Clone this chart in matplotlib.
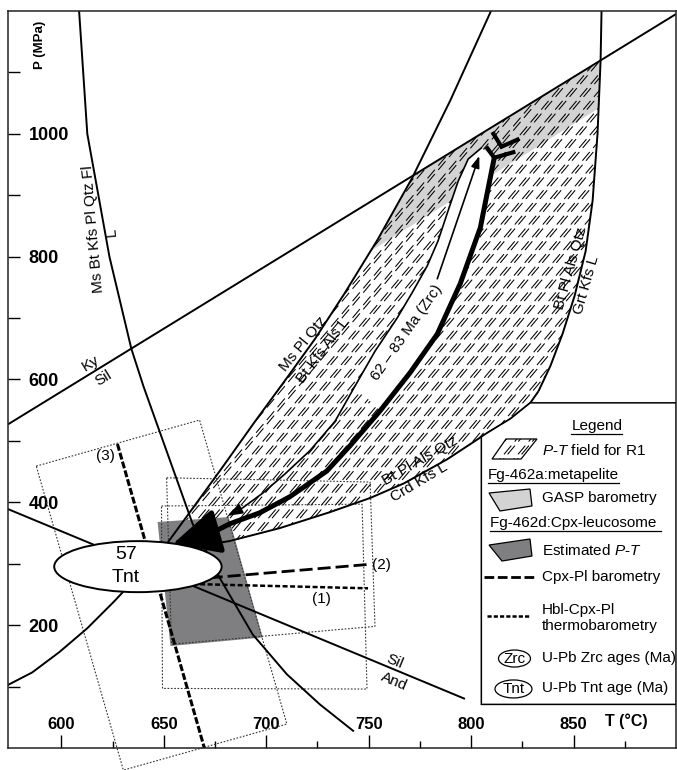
import numpy as np
import matplotlib
matplotlib.use("Agg")
import matplotlib.pyplot as plt
from matplotlib.patches import Polygon, Ellipse, FancyArrowPatch
from matplotlib.path import Path
from matplotlib.collections import LineCollection

plt.rcParams['font.family'] = ['Liberation Sans', 'DejaVu Sans']
plt.rcParams['mathtext.fontset'] = 'custom'
plt.rcParams['mathtext.rm'] = 'Liberation Sans'
plt.rcParams['mathtext.it'] = 'Liberation Sans:italic'
plt.rcParams['lines.scale_dashes'] = False

# ---------------- data (T in °C, P in MPa) ----------------
t_ticks = [600, 650, 700, 750, 800, 850]
t_minor = [625, 675, 725, 775, 825, 875]
p_ticks = [200, 400, 600, 800, 1000]
p_minor = [100, 300, 500, 700, 900, 1100]

ky_sil_T = [574, 900]
ky_sil_P = [527, 1195]

sil_and_T = [574, 797]
sil_and_P = [389, 80]

# Ms Bt Kfs Pl Qtz Fl = L
solidus_T = [608.6, 612.7, 623.5, 634.2, 640.1, 664.1, 677.3, 693.4, 710.1, 726.2, 742.8]
solidus_P = [1205, 1000, 800, 650, 589, 365, 277, 185, 120, 71, 27]

# Ms Pl Qtz = Bt Kfs Als L
ms_melt_T = [810.8, 789.8, 771.2, 754.6, 738.4, 723.8, 709.1, 694.4, 679.7,
             665.6, 651.4, 638.2, 625.9, 612.7, 599.0, 585.8, 573.6]
ms_melt_P = [1208, 1054, 928, 829, 741, 666, 598, 531, 462,
             397, 332, 283, 239, 195, 156, 123, 102]
ms_melt_apex = 10

# Bt Pl Als Qtz = Grt Kfs L
grt_T = [863.7, 863.2, 861.7, 859.3, 855.9, 850.5, 844.6, 838.7, 832.9]
grt_P = [1208, 1119, 1000, 891, 809, 736, 674, 622, 581]

# Bt Pl Als Qtz = Crd Kfs L
crd_T = [653.8, 667.5, 682.2, 706.6, 731.1, 750.7, 767.3, 788.3, 807.9, 819.2, 828.9, 832.9]
crd_P = [322, 329, 337, 358, 384, 407, 431, 470, 513, 536, 562, 581]

# GASP barometry, lower limit (upper limit is the Ky/Sil line)
gasp_T = [751, 862]
gasp_P = [809, 1041]

# Fg-462d estimated P-T
est_T = [647.0, 681.7, 698.3, 653.3]
est_P = [368, 376, 180, 166]

# barometry lines (1)-(3)
cpx_pl_T = [672.4, 750.2]
cpx_pl_P = [277, 299]
hbl_T = [664.1, 749.7]
hbl_P = [267, 260]
line3_T = [627.4, 670.0]
line3_P = [495, -2]

# uncertainty envelopes
env2_T = [651.4, 750.7, 753.1, 653.8]
env2_P = [440, 433, 198, 169]
env1_T = [648.9, 746.8, 749.2, 649.4]
env1_P = [394, 397, 96, 97]
env3_T = [587.8, 667.5, 710.1, 630.3]
env3_P = [459, 534, 39, -36]

# P-T path (retrograde, thick) and zircon-age path (thin)
path_T = [811.3, 804.5, 794.7, 783.5, 770.2, 755.6, 740.9, 729.6, 711.5, 696.9, 682.2, 673.4, 654.3]
path_P = [961, 847, 756, 674, 611, 549, 492, 451, 409, 383, 365, 350, 332]
zrc_T = [805.0, 798.6, 793.7, 788.8, 783.9, 778.6, 771.7, 763.9, 753.1, 743.3,
         733.6, 721.3, 709.1, 698.3, 688.5, 681.2]
zrc_P = [977, 959, 923, 875, 826, 785, 744, 700, 646, 589,
         532, 484, 446, 415, 391, 378]
zrc_up_T = [783.5, 804.0]
zrc_up_P = [764, 964]
peak_a_T = [810.4, 814.8, 823.6]
peak_a_P = [1003, 979, 992]
peak_b_T = [807.4, 811.3, 821.6]
peak_b_P = [979, 961, 971]

tnt_T, tnt_P = 637.4, 295.3
tnt_age = "57"

# ---------------- figure ----------------
fig = plt.figure(figsize=(6.77, 7.70), dpi=100)
ax = fig.add_axes([8 / 677, 22 / 770, 668 / 677, 737 / 770])
ax.set_xlim(574, 900)
ax.set_ylim(0, 1200)

for s in ax.spines.values():
    s.set_linewidth(1.1)
    s.set_color('#222222')

ax.set_xticks(t_ticks, labels=[str(v) for v in t_ticks], fontweight='bold', fontsize=12)
ax.set_xticks(t_minor, minor=True)
ax.set_yticks(p_ticks, labels=[str(v) for v in p_ticks], fontweight='bold', fontsize=13,
              ha='left')
ax.set_yticks(p_minor, minor=True)
ax.tick_params(axis='x', which='major', direction='in', length=9.4, width=1.0, pad=-22)
ax.tick_params(axis='x', which='minor', direction='in', length=5, width=1.0)
ax.tick_params(axis='y', which='both', direction='in', length=8.6, width=1.0, pad=-15)

ax.text(0.048, 0.954, "P (MPa)", transform=ax.transAxes, rotation=90, fontsize=9.5,
        fontweight='bold', ha='center', va='center')
ax.text(0.925, 0.037, "T (°C)", transform=ax.transAxes, fontsize=11.5,
        fontweight='bold', ha='center', va='center')


def line_at(T, lT, lP):
    m = (lP[1] - lP[0]) / (lT[1] - lT[0])
    return lP[0] + m * (np.asarray(T, float) - lT[0])


def cross_line(T, P, lT, lP):
    T = np.asarray(T, float)
    P = np.asarray(P, float)
    s = P - line_at(T, lT, lP)
    for i in range(len(T) - 1):
        if s[i] * s[i + 1] <= 0 and s[i] != s[i + 1]:
            f = s[i] / (s[i] - s[i + 1])
            return i, (T[i] + f * (T[i + 1] - T[i]), P[i] + f * (P[i + 1] - P[i]))
    return None


def dash_hatch(clip, zorder, spacing=14.0, angle=50.0, pair=3.6, lw=0.75):
    """Double dashed diagonal hatching, built in pixel space and clipped to a patch."""
    bb = ax.bbox
    x0, y0, x1, y1 = bb.x0, bb.y0, bb.x1, bb.y1
    run = (y1 - y0) / np.tan(np.radians(angle))
    starts = np.arange(x0 - run - spacing, x1 + spacing, spacing)
    inv = ax.transData.inverted()
    segs = []
    for dx in (0.0, pair):
        for xs in starts:
            segs.append(inv.transform([[xs + dx, y0], [xs + dx + run, y1]]))
    lc = LineCollection(segs, colors='k', linewidths=lw,
                        linestyles=[(0, (8.2, 3.8))], zorder=zorder)
    ax.add_collection(lc)
    lc.set_clip_path(clip)
    return lc


# ---- P-T field for R1 ----
iD, xD = cross_line(ms_melt_T, ms_melt_P, ky_sil_T, ky_sil_P)
iG, xG = cross_line(grt_T, grt_P, ky_sil_T, ky_sil_P)
field = [xD]
field += list(zip(ms_melt_T[iD + 1:ms_melt_apex + 1], ms_melt_P[iD + 1:ms_melt_apex + 1]))
field += list(zip(crd_T, crd_P))
field += list(zip(grt_T[iG + 1:], grt_P[iG + 1:]))[::-1]
field += [xG]
field_patch = Polygon(field, closed=True, fc='white', ec='none', zorder=1)
ax.add_patch(field_patch)

# GASP band, clipped to the field
band_T = np.array([700, 900])
band_top = line_at(band_T, ky_sil_T, ky_sil_P) + 60
band_bot = line_at(band_T, gasp_T, gasp_P)
gasp = Polygon([(band_T[0], band_top[0]), (band_T[1], band_top[1]),
                (band_T[1], band_bot[1]), (band_T[0], band_bot[0])],
               closed=True, fc='#d3d3d3', ec='none', zorder=1.1)
ax.add_patch(gasp)
gasp.set_clip_path(field_patch)

dash_hatch(field_patch, 1.2)

# white tongue of the zircon-age path
tongue = list(zip(zrc_T[:10], zrc_P[:10])) + list(zip(path_T[:6], path_P[:6]))[::-1]
ax.add_patch(Polygon(tongue, closed=True, fc='white', ec='none', zorder=1.3))

# estimated P-T for Fg-462d
ax.add_patch(Polygon(list(zip(est_T, est_P)), closed=True, fc='#7f7f81', ec='none',
                     zorder=1.5))

# envelopes
for eT, eP, clip in ((env1_T, env1_P, True), (env2_T, env2_P, True), (env3_T, env3_P, False)):
    ax.add_patch(Polygon(list(zip(eT, eP)), closed=True, fill=False, ec='#333333',
                         lw=0.8, ls=(0, (1.2, 1.2)), zorder=1.6, clip_on=clip))

# reaction curves
curve_kw = dict(color='k', lw=1.4, zorder=2, solid_capstyle='butt')
ax.plot(ky_sil_T, ky_sil_P, **curve_kw)
ax.plot(sil_and_T, sil_and_P, **curve_kw)
ax.plot(solidus_T, solidus_P, **curve_kw)
ax.plot(ms_melt_T, ms_melt_P, **curve_kw)
ax.plot(grt_T, grt_P, **curve_kw)
ax.plot(crd_T, crd_P, **curve_kw)

# barometry lines
ax.plot(cpx_pl_T, cpx_pl_P, color='k', lw=2.0, ls=(0, (9.4, 3.6)), zorder=2.2)
ax.plot(hbl_T, hbl_P, color='k', lw=1.8, ls=(0, (3.6, 1.8)), zorder=2.2)
ax.plot(line3_T, line3_P, color='k', lw=2.2, ls=(0, (5.0, 1.6)), zorder=2.2)

# P-T path arrows
ax.add_patch(FancyArrowPatch(path=Path(np.column_stack([path_T, path_P])),
                             arrowstyle='-|>,head_length=29,head_width=14',
                             mutation_scale=1, lw=3.6, color='k', zorder=2.6,
                             joinstyle='round'))
ax.add_patch(FancyArrowPatch(path=Path(np.column_stack([zrc_T, zrc_P])),
                             arrowstyle='-|>,head_length=9,head_width=3.2',
                             mutation_scale=1, lw=1.2, color='k', zorder=2.5))
ax.add_patch(FancyArrowPatch(path=Path(np.column_stack([zrc_up_T, zrc_up_P])),
                             arrowstyle='-|>,head_length=7,head_width=2.5',
                             mutation_scale=1, lw=1.2, color='k', zorder=2.5))
for cT, cP in ((peak_a_T, peak_a_P), (peak_b_T, peak_b_P)):
    ax.plot(cT, cP, color='k', lw=3.0, zorder=2.6, solid_joinstyle='miter',
            solid_capstyle='butt')

# titanite age
ax.add_patch(Ellipse((tnt_T, tnt_P), 81.7, 83.1, fc='white', ec='k', lw=1.4, zorder=3))
ax.text(tnt_T - 5.8, tnt_P + 20, tnt_age, fontsize=14, ha='center', va='center', zorder=3.1)
ax.text(tnt_T - 5.8, tnt_P - 18, "Tnt", fontsize=14, ha='center', va='center', zorder=3.1)

# curve labels
lab_kw = dict(fontsize=11, ha='center', va='center', rotation_mode='anchor', zorder=3.2)
ax.text(615.7, 845, "Ms Bt Kfs Pl Qtz Fl", rotation=95, **lab_kw)
ax.text(624.5, 840, "L", rotation=95, **lab_kw)
ax.text(614.2, 627, "Ky", rotation=31.5, **lab_kw)
ax.text(620.5, 602, "Sil", rotation=31.5, **lab_kw)
ax.text(717.9, 658, "Ms Pl Qtz", rotation=51, **lab_kw)
ax.text(727.7, 647, "Bt Kfs Als L", rotation=53, **lab_kw)
ax.text(768.8, 677, "62 – 83 Ma (Zrc)", rotation=55, **lab_kw)
ax.text(848.5, 780, "Bt Pl Als Qtz", rotation=74, **lab_kw)
ax.text(856.3, 754, "Grt Kfs L", rotation=74, **lab_kw)
ax.text(775.1, 467, "Bt Pl Als Qtz", rotation=30, **lab_kw)
ax.text(774.6, 433, "Crd Kfs L", rotation=31, **lab_kw)
ax.text(762.9, 140, "Sil", rotation=-22.6, **lab_kw)
ax.text(762.4, 109, "And", rotation=-22.6, **lab_kw)
ax.text(621.5, 475, "(3)", **lab_kw)
ax.text(756.1, 298, "(2)", **lab_kw)
ax.text(727.2, 242, "(1)", **lab_kw)

# ---------------- legend ----------------
box_left, box_bottom, box_top = 805, 71, 562
cut = [(t, p) for t, p in zip(crd_T, crd_P) if t >= box_left and p <= box_top]
box = [(box_left, box_bottom), (box_left, float(np.interp(box_left, crd_T, crd_P)))]
box += cut + [(900, box_top), (900, box_bottom)]
ax.add_patch(Polygon(box, closed=True, fc='white', ec='k', lw=1.1, zorder=4))

A = ax.transAxes
leg_kw = dict(transform=A, fontsize=11, va='center', zorder=5)
tx = 0.7994
titles = []
titles.append(ax.text(0.8817, 0.4369, "Legend", ha='center', **leg_kw))

icon1 = Polygon([(0.7455, 0.4193), (0.7919, 0.4193), (0.7680, 0.3921), (0.7246, 0.3921)],
                closed=True, transform=A, fc='white', ec='k', lw=0.9, zorder=5)
ax.add_patch(icon1)
dash_hatch(icon1, 5.05)
ax.text(tx, 0.4043, r"$\it{P}$-$\it{T}$ field for R1", **leg_kw)

titles.append(ax.text(0.7186, 0.3704, "Fg-462a:metapelite", **leg_kw))
ax.add_patch(Polygon([(0.7201, 0.3460), (0.7814, 0.3514), (0.7844, 0.3284), (0.7365, 0.3216)],
                     closed=True, transform=A, fc='#d3d3d3', ec='k', lw=0.9, zorder=5))
ax.text(tx, 0.3392, "GASP barometry", **leg_kw)

titles.append(ax.text(0.7216, 0.3053, "Fg-462d:Cpx-leucosome ", **leg_kw))
ax.add_patch(Polygon([(0.7201, 0.2754), (0.7814, 0.2836), (0.7844, 0.2605), (0.7395, 0.2537)],
                     closed=True, transform=A, fc='#7f7f81', ec='k', lw=0.9, zorder=5))
ax.text(tx, 0.2673, r"Estimated $\it{P}$-$\it{T}$", **leg_kw)

ax.plot([0.7126, 0.7874], [0.2320, 0.2320], transform=A, color='k', lw=2.0,
        ls=(0, (7.0, 2.6)), zorder=5)
ax.text(tx, 0.2320, "Cpx-Pl barometry", **leg_kw)

ax.plot([0.7171, 0.7814], [0.1791, 0.1791], transform=A, color='k', lw=1.8,
        ls=(0, (3.0, 1.5)), zorder=5)
ax.text(tx, 0.1764, "Hbl-Cpx-Pl\nthermobarometry", **leg_kw)

ax.add_patch(Ellipse((0.7582, 0.1214), 0.0479, 0.0231, transform=A, fc='white', ec='k',
                     lw=0.9, zorder=5))
ax.text(0.7582, 0.1214, "Zrc", ha='center', **leg_kw)
ax.text(tx, 0.1221, "U-Pb Zrc ages (Ma)", **leg_kw)
ax.add_patch(Ellipse((0.7567, 0.0801), 0.0554, 0.0244, transform=A, fc='white', ec='k',
                     lw=0.9, zorder=5))
ax.text(0.7567, 0.0801, "Tnt", ha='center', **leg_kw)
ax.text(tx, 0.0814, "U-Pb Tnt age (Ma)", **leg_kw)

# underline the legend headings
fig.canvas.draw()
renderer = fig.canvas.get_renderer()
invA = A.inverted()
for t in titles:
    bb = t.get_window_extent(renderer)
    (ux0, uy), (ux1, _) = invA.transform([[bb.x0, bb.y0 - 1], [bb.x1, bb.y0 - 1]])
    ax.plot([ux0, ux1], [uy, uy], transform=A, color='k', lw=0.9, zorder=5)

# pressure labels sit inside the frame, left-aligned after the ticks
for tick in ax.yaxis.get_major_ticks():
    tick.label1.set_horizontalalignment('left')

fig.savefig("out.png", dpi=100)
